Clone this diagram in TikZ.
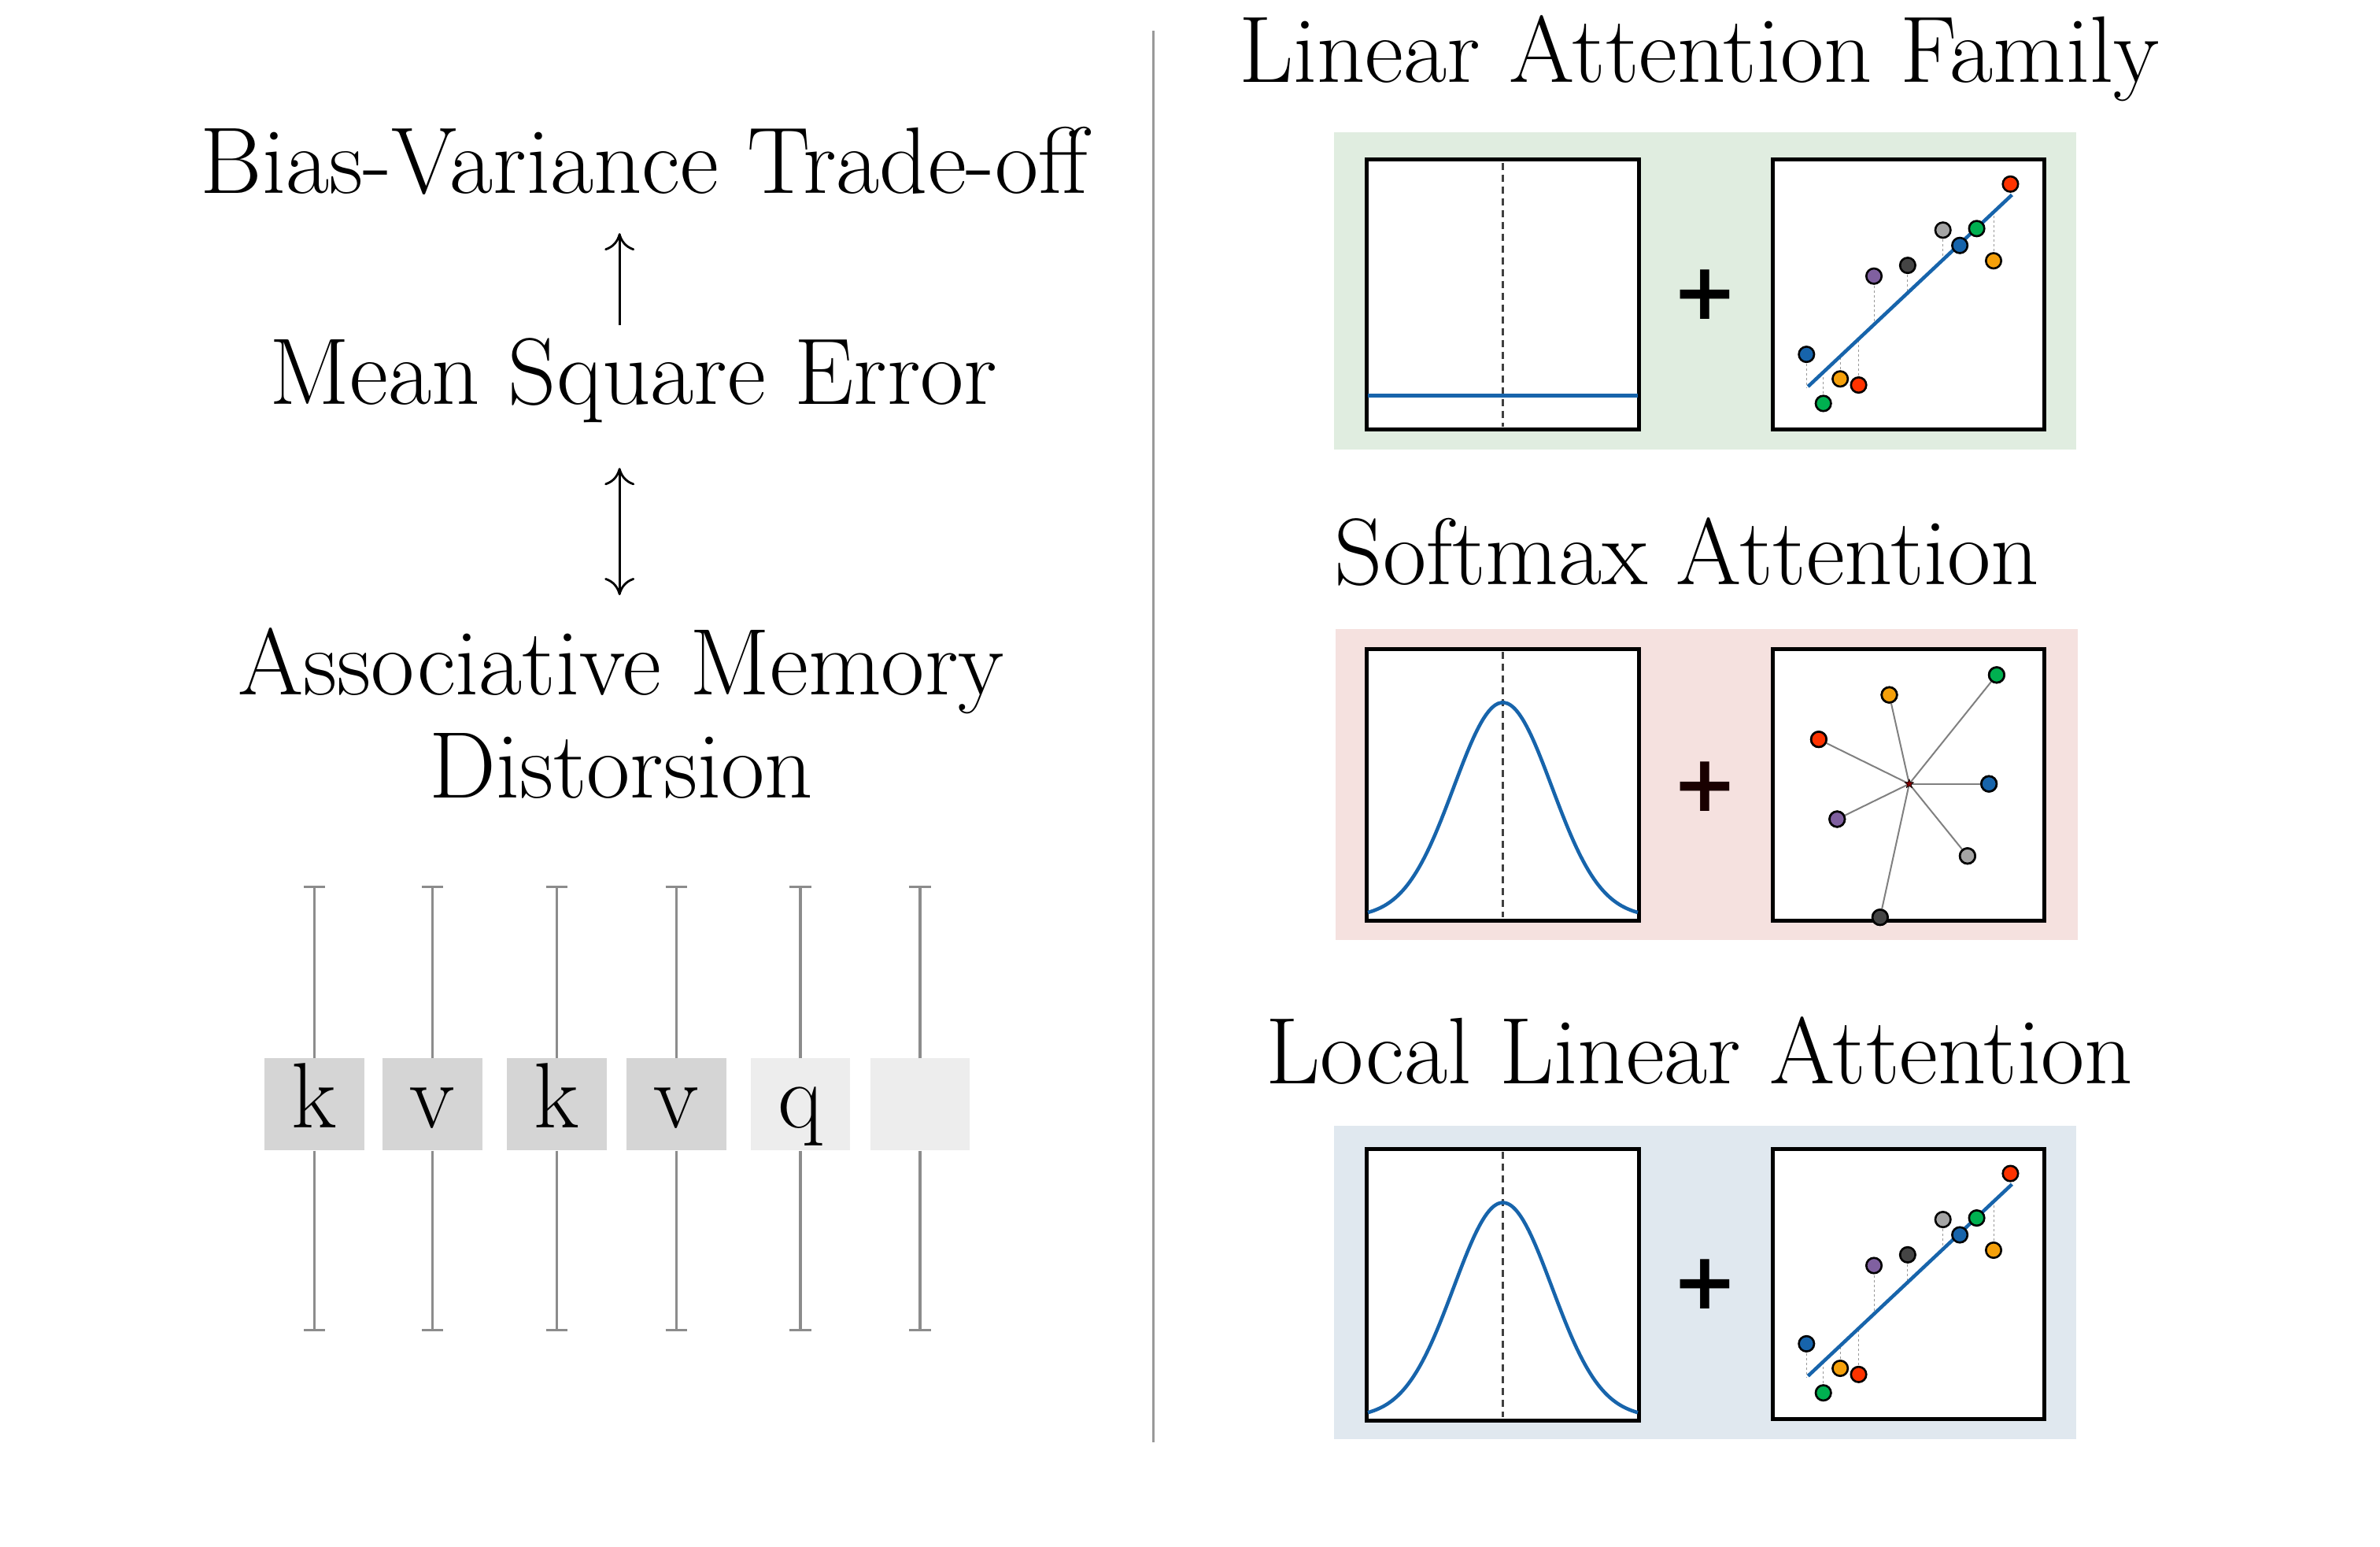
\documentclass[tikz,border=0pt]{standalone}
\usepackage{fontspec}
\newfontfamily\plusfont{DejaVu Sans}
\usetikzlibrary{arrows.meta,shapes.geometric}
\definecolor{pblue}{HTML}{1764AB}
\definecolor{porange}{HTML}{F5A00A}
\definecolor{pred}{HTML}{FF3300}
\definecolor{pgreen}{HTML}{00B050}
\definecolor{ppurple}{HTML}{8060A0}
\definecolor{pdark}{HTML}{454545}
\definecolor{pgray}{HTML}{A5A5A5}
\definecolor{bggreen}{HTML}{E0EDE0}
\definecolor{bgpink}{HTML}{F5E1DF}
\definecolor{bgblue}{HTML}{E0E8EF}
\tikzset{
  bigtext/.style={font=\fontsize{120}{144}\selectfont, inner sep=0pt, align=center},
  tok/.style={minimum width=65*1.948pt, minimum height=60*1.948pt, inner sep=0pt, font=\fontsize{118}{140}\selectfont},
  stem/.style={draw=black!45, line width=3.4pt},
  plotbox/.style={draw=black, line width=5pt, fill=white},
  pt/.style={circle, draw=black, line width=2.6pt, minimum size=10*1.948pt, inner sep=0pt},
  drop/.style={draw=black!40, dashed, line width=1pt},
  spoke/.style={draw=black!50, line width=2pt},
  curve/.style={draw=pblue, line width=4.5pt},
  center/.style={draw=black!75, dash pattern=on 9pt off 6pt, line width=2.2pt},
  plussign/.style={font=\plusfont\bfseries\fontsize{100}{100}\selectfont, inner sep=0pt}
}
\begin{document}
\begin{tikzpicture}[x=1.948pt,y=-1.948pt]
\useasboundingbox (0,0) rectangle (1552,1008);
% separator
\draw[black!40, line width=3pt] (752,20) -- (752,940);
% left texts
\node[bigtext] (bias) at (420,105) {Bias-Variance Trade-off};
\node[bigtext] (mse) at (413,248) {Mean Square Error};
\node[bigtext] (amd) at (405,465) {Associative Memory\\[-14pt]Distorsion};
\coordinate (a1) at (404,212); \coordinate (a2) at (404,152);
\coordinate (b1) at (404,305); \coordinate (b2) at (404,388);
\draw[line width=2.8pt, -{To[length=22pt,width=38pt]}] (a1) -- (a2);
\draw[line width=2.8pt, {To[length=22pt,width=38pt]}-{To[length=22pt,width=38pt]}] (b1) -- (b2);
% tokens
\foreach \cx/\lab/\col [count=\i] in {205/k/D5D5D5, 282/v/D5D5D5, 363/k/D5D5D5, 441/v/D5D5D5, 522/q/EDEDED, 600//EDEDED}{
  \definecolor{tc\i}{HTML}{\col}
  \node[tok, fill=tc\i] (t\i) at (\cx,720) {\lab\vphantom{kq}};
  \coordinate (top\i) at (\cx,578);
  \coordinate (bot\i) at (\cx,867);
  \draw[stem] (t\i.north) -- (top\i);
  \draw[stem] (t\i.south) -- (bot\i);
  \draw[stem] ([xshift=-7*1.948pt]top\i) -- ([xshift=7*1.948pt]top\i);
  \draw[stem] ([xshift=-7*1.948pt]bot\i) -- ([xshift=7*1.948pt]bot\i);
}
% right titles
\node[bigtext] (ti1) at (1108,38) {Linear Attention Family};
\node[bigtext] (ti2) at (1100,360) {Softmax Attention};
\node[bigtext] (ti3) at (1108,685) {Local Linear Attention};
% panel backgrounds
\fill[bggreen] (870,86) rectangle (1354,293);
\fill[bgpink] (871,410) rectangle (1355,613);
\fill[bgblue] (870,734) rectangle (1354,938);
% ---- Panel 1
\draw[plotbox] (891,104) rectangle (1069,280);
\draw[center] (980,106) -- (980,278);
\draw[curve] (892,258) -- (1068,258);
\node[plussign] (p1) at (1112,192) {+};
\newcommand{\linscatter}[1]{%
\begin{scope}[shift={(0,#1)}]
\draw[plotbox] (1156,104) rectangle (1333,280);
\foreach \px/\py in {1178/231,1200/247,1212/251,1189/263,1222/180,1244/173,1267/150,1278/160,1289/149,1300/170,1311/120}{
  \draw[drop] (\px,\py) -- (\px,{252-0.94*(\px-1179)});
}
\draw[curve] (1179,252) -- (1312,127);
\foreach \px/\py/\c in {1178/231/pblue,1200/247/porange,1212/251/pred,1189/263/pgreen,1222/180/ppurple,1244/173/pdark,1267/150/pgray,1278/160/pblue,1289/149/pgreen,1300/170/porange,1311/120/pred}{
  \node[pt, fill=\c] at (\px,\py) {};
}
\end{scope}}
\newcommand{\gaussplot}[1]{%
\begin{scope}[shift={(0,#1)}]
\draw[plotbox] (891,423) rectangle (1069,600);
\draw[center] (980,425) -- (980,598);
\draw[curve] plot[domain=892:1068,samples=90,smooth] (\x,{598-140*exp(-((\x-980)/32)^2/2)});
\end{scope}}
\linscatter{0}
% ---- Panel 2
\gaussplot{0}
\node[plussign, text=black!90!red] (p2) at (1112,513) {+};
\draw[plotbox] (1156,423) rectangle (1333,600);
\coordinate (star) at (1245,511);
\foreach \px/\py/\c [count=\j] in {1232/453/porange,1302/440/pgreen,1186/482/pred,1297/511/pblue,1198/534/ppurple,1283/558/pgray,1226/598/pdark}{
  \node[pt, fill=\c] (s\j) at (\px,\py) {};
  \draw[spoke] (star) -- (s\j.center);
  \node[pt, fill=\c] at (\px,\py) {};
}
\node[star, star points=5, star point ratio=2.4, fill=red!50!black, draw=black, line width=0.6pt, minimum size=12pt, inner sep=0pt] (st) at (star) {};
% ---- Panel 3
\gaussplot{326}
\node[plussign] (p3) at (1112,837) {+};
\linscatter{645}
\end{tikzpicture}
\end{document}
